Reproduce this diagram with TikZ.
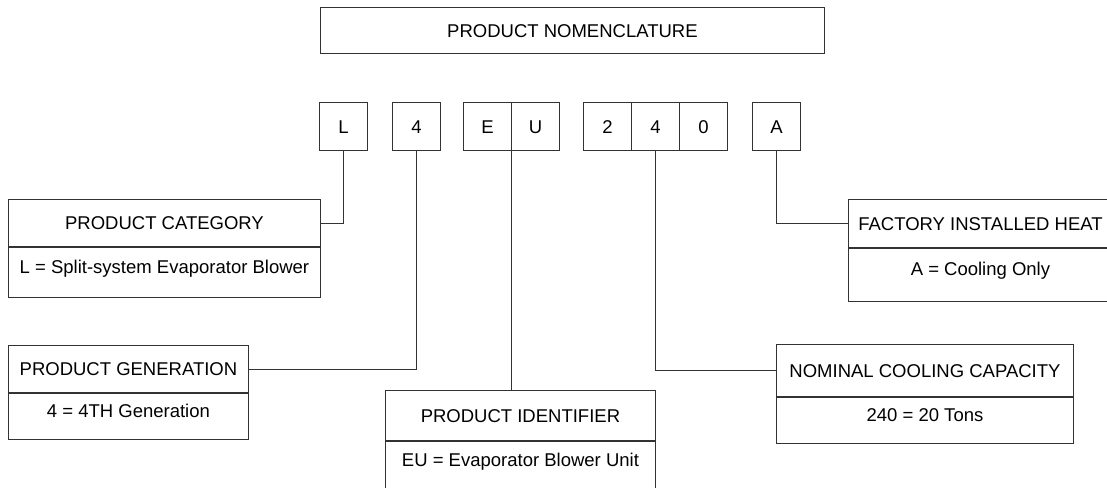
\documentclass[tikz,border=0pt]{standalone}
\usepackage{fontspec}
\setmainfont{Liberation Sans}
\begin{document}
\begin{tikzpicture}[x=1pt,y=-1pt,
  ln/.style={draw=black!80, line width=0.9pt},
  base/.style={ln, inner sep=0pt, font=\fontsize{18.5}{22}\selectfont, anchor=north west},
  cbox/.style={base, minimum width=48pt, minimum height=48pt, text height=13.3pt, text depth=0pt},
  hd/.style={base, minimum height=47pt, text height=13.3pt, text depth=0pt},
  bd/.style={ln, inner sep=0pt, font=\fontsize{18.5}{22}\selectfont, anchor=north, minimum height=50pt, text height=13.3pt, text depth=12pt},
  conn/.style={ln}]
\useasboundingbox (0,0) rectangle (1107,487);
\clip (0,0) rectangle (1107,487);
\fill[white] (0,0) rectangle (1107,487);

% title
\node[base, minimum width=504pt, minimum height=46pt, text height=13.3pt, text depth=0pt] (title) at (320,7) {PRODUCT NOMENCLATURE};

% code boxes
\node[cbox] (cL) at (319,102) {L};
\node[cbox] (cG) at (392,102) {4};
\node[cbox] (cE) at (463,102) {E};
\node[cbox] (cU) at (511,102) {U};
\node[cbox] (c2) at (583,102) {2};
\node[cbox] (c4) at (631,102) {4};
\node[cbox] (c0) at (679,102) {0};
\node[cbox] (cA) at (752,102) {A};

% PRODUCT CATEGORY
\node[hd, minimum width=312pt] (cat) at (8,199) {PRODUCT CATEGORY};
\node[bd, minimum width=312pt] (catb) at (cat.south) {L = Split-system Evaporator Blower};

% PRODUCT GENERATION
\node[hd, minimum width=240pt] (gen) at (8,345) {PRODUCT GENERATION};
\node[bd, minimum width=240pt, minimum height=46pt] (genb) at (gen.south) {4 = 4TH Generation};

% PRODUCT IDENTIFIER
\node[hd, minimum width=270pt, minimum height=50pt] (idn) at (385,390) {PRODUCT IDENTIFIER};
\node[bd, minimum width=270pt, minimum height=48pt] (idnb) at (idn.south) {EU = Evaporator Blower Unit};

% NOMINAL COOLING CAPACITY
\node[hd, minimum width=297pt, minimum height=52pt] (nom) at (776,344) {NOMINAL COOLING CAPACITY};
\node[bd, minimum width=297pt, minimum height=46pt] (nomb) at (nom.south) {240 = 20 Tons};

% FACTORY INSTALLED HEAT
\node[hd, minimum width=264pt, minimum height=48pt] (fac) at (848,199) {FACTORY INSTALLED HEAT};
\node[bd, minimum width=264pt, minimum height=53pt] (facb) at (fac.south) {A = Cooling Only};

% connectors
\draw[conn] (cL.south) |- (cat.east);
\draw[conn] (cG.south) |- (gen.east);
\draw[conn] (cE.south east) -- (cE.south east |- idn.north);
\draw[conn] (c4.south) |- (nom.west);
\draw[conn] (cA.south) |- (fac.west);
\end{tikzpicture}
\end{document}
